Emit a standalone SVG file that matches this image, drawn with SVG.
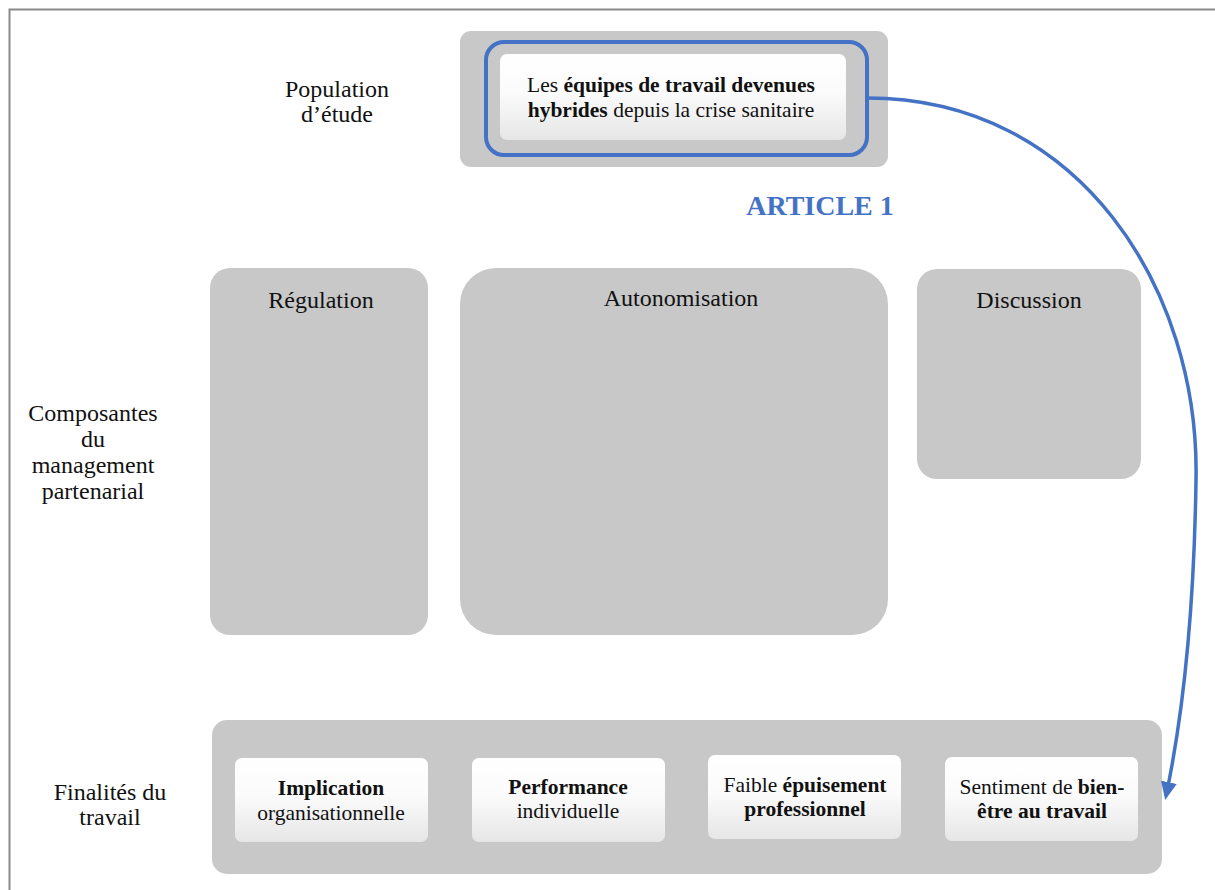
<svg xmlns="http://www.w3.org/2000/svg" width="1215" height="890" viewBox="0 0 1215 890">
<style>
text{font-family:"Liberation Serif","Times New Roman",serif;fill:#111}
.lbl{font-size:24px;text-anchor:middle}
.grp{fill:#c8c8c8}
.card{fill:url(#wg)}
.ct{font-size:21.5px;text-anchor:middle}
.b{font-weight:bold}
</style>
<defs>
<linearGradient id="wg" x1="0" y1="0" x2="0" y2="1">
<stop offset="0" stop-color="#ffffff"/>
<stop offset="0.45" stop-color="#fbfbfb"/>
<stop offset="1" stop-color="#e6e6e6"/>
</linearGradient>
<marker id="ah" markerWidth="18" markerHeight="16" refX="14" refY="8" orient="auto" markerUnits="userSpaceOnUse" viewBox="0 0 18 16">
<path d="M0,0 L18,8 L0,16 z" fill="#4472c4"/>
</marker>
</defs>
<rect x="0" y="0" width="1215" height="890" fill="#fff"/>
<path d="M9.5,890 V9.5 H1215" fill="none" stroke="#8a8a8a" stroke-width="2"/>

<g id="label-population">
<text class="lbl" x="337" y="97">Population</text>
<text class="lbl" x="337" y="122">d’étude</text>
</g>
<g id="label-composantes">
<text class="lbl" x="93" y="421">Composantes</text>
<text class="lbl" x="93" y="447">du</text>
<text class="lbl" x="93" y="473">management</text>
<text class="lbl" x="93" y="499">partenarial</text>
</g>
<g id="label-finalites">
<text class="lbl" x="110" y="800">Finalités du</text>
<text class="lbl" x="110" y="825">travail</text>
</g>

<g id="population">
<rect class="grp" x="460" y="31" width="428" height="136" rx="11"/>
<rect x="486" y="42" width="381" height="113" rx="18" fill="none" stroke="#4472c4" stroke-width="4"/>
<rect class="card" x="500" y="54" width="346" height="86" rx="7"/>
<text class="ct" x="671" y="92">Les <tspan class="b">équipes de travail devenues</tspan></text>
<text class="ct" x="671" y="117"><tspan class="b">hybrides</tspan> depuis la crise sanitaire</text>
</g>

<g id="article1">
<text x="820" y="215" text-anchor="middle" font-size="28" font-weight="bold" style="fill:#4472c4">ARTICLE 1</text>
</g>

<g id="regulation">
<rect class="grp" x="210" y="268" width="218" height="367" rx="20"/>
<text class="lbl" x="321" y="308">Régulation</text>
</g>
<g id="autonomisation">
<rect class="grp" x="460" y="268" width="428" height="367" rx="36"/>
<text class="lbl" x="681" y="306">Autonomisation</text>
</g>
<g id="discussion">
<rect class="grp" x="917" y="269" width="224" height="210" rx="20"/>
<text class="lbl" x="1029" y="308">Discussion</text>
</g>

<g id="finalites">
<rect class="grp" x="212" y="720" width="950" height="154" rx="15"/>
</g>
<g id="implication">
<rect class="card" x="235" y="758" width="193" height="84" rx="7"/>
<text class="ct b" x="331" y="795">Implication</text>
<text class="ct" x="331" y="820">organisationnelle</text>
</g>
<g id="performance">
<rect class="card" x="472" y="758" width="193" height="84" rx="7"/>
<text class="ct b" x="568" y="794">Performance</text>
<text class="ct" x="568" y="818">individuelle</text>
</g>
<g id="epuisement">
<rect class="card" x="708" y="755" width="193" height="84" rx="7"/>
<text class="ct" x="805" y="792">Faible <tspan class="b">épuisement</tspan></text>
<text class="ct b" x="805" y="816">professionnel</text>
</g>
<g id="bienetre">
<rect class="card" x="945" y="757" width="193" height="84" rx="7"/>
<text class="ct" x="1042" y="794">Sentiment de <tspan class="b">bien-</tspan></text>
<text class="ct b" x="1042" y="818">être au travail</text>
</g>

<g id="connectors">
<path d="M867,98 C1080,98 1200,290 1196,480 C1194,620 1182,720 1166,796" fill="none" stroke="#4472c4" stroke-width="3.5" marker-end="url(#ah)"/>
</g>
</svg>
